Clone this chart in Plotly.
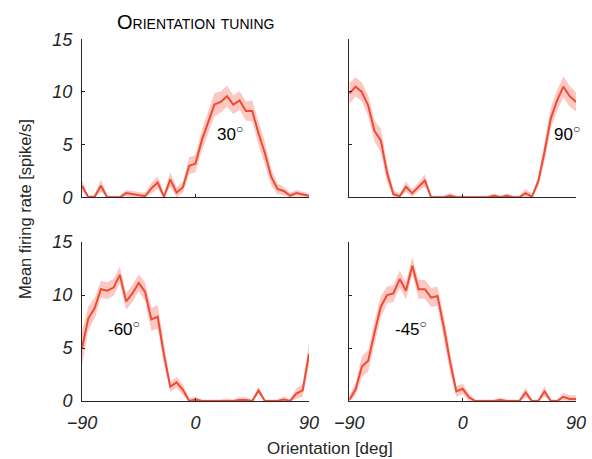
import plotly.graph_objects as go

orientation = [-90, -85, -80, -75, -70, -65, -60, -55, -50, -45, -40, -35, -30, -25, -20, -15, -10, -5,
               0, 5, 10, 15, 20, 25, 30, 35, 40, 45, 50, 55, 60, 65, 70, 75, 80, 85, 90]

rate_30 = [1.1, 0.0, 0.05, 1.1, 0.0, 0.0, 0.0, 0.4, 0.3, 0.2, 0.1, 0.85, 1.4, 0.05, 1.7, 0.45, 0.95, 3.0,
           3.2, 5.4, 7.1, 8.8, 9.05, 9.6, 8.8, 9.2, 8.2, 8.2, 6.05, 4.2, 1.95, 0.8, 0.6, 0.15, 0.4, 0.3, 0.15]
sem_30 = [0.5, 0.15, 0.25, 0.6, 0.15, 0.15, 0.15, 0.3, 0.3, 0.3, 0.3, 0.5, 0.6, 0.3, 0.7, 0.5, 0.5, 0.8,
          0.8, 1.0, 1.1, 1.1, 1.0, 1.0, 0.9, 0.9, 0.9, 1.0, 1.1, 1.1, 0.8, 0.5, 0.4, 0.25, 0.3, 0.25, 0.15]

rate_90 = [9.85, 10.5, 10.0, 8.7, 6.3, 5.4, 2.3, 0.3, 0.1, 1.0, 0.4, 1.0, 1.6, 0.0, 0.0, 0.0, 0.15, 0.0,
           0.0, 0.0, 0.0, 0.0, 0.0, 0.15, 0.0, 0.15, 0.0, 0.0, 0.4, 0.05, 1.5, 4.3, 7.5, 9.2, 10.5, 9.6, 9.05]
sem_90 = [1.0, 0.9, 0.9, 1.0, 1.0, 1.1, 0.9, 0.4, 0.25, 0.5, 0.35, 0.4, 0.6, 0.15, 0.15, 0.15, 0.25, 0.15,
          0.15, 0.15, 0.15, 0.15, 0.15, 0.2, 0.15, 0.2, 0.15, 0.15, 0.4, 0.25, 0.5, 0.9, 1.0, 1.0, 1.0, 1.0, 0.9]

rate_m60 = [5.0, 7.8, 8.75, 10.55, 10.4, 10.7, 11.9, 9.4, 10.15, 11.15, 10.3, 7.7, 7.95, 4.35, 1.35, 1.75, 1.05, 0.0,
            0.15, 0.0, 0.0, 0.0, 0.0, 0.05, 0.0, 0.1, 0.1, 0.0, 1.0, 0.0, 0.0, 0.0, 0.15, 0.0, 0.7, 1.0, 4.45]
sem_m60 = [1.6, 1.1, 1.0, 0.8, 0.8, 0.8, 0.8, 0.8, 0.8, 0.8, 0.9, 1.1, 1.1, 0.9, 0.5, 0.5, 0.5, 0.25,
           0.25, 0.15, 0.15, 0.15, 0.15, 0.2, 0.15, 0.25, 0.25, 0.15, 0.35, 0.15, 0.15, 0.15, 0.25, 0.15, 0.5, 0.6, 1.0]

rate_m45 = [0.1, 1.1, 3.25, 3.8, 6.45, 8.9, 10.0, 10.15, 11.5, 10.4, 12.75, 10.55, 10.55, 9.75, 9.9, 7.0, 3.7, 0.9,
            1.15, 0.35, 0.0, 0.0, 0.0, 0.0, 0.1, 0.0, 0.0, 0.0, 0.8, 0.0, 0.0, 0.9, 0.0, 0.0, 0.4, 0.2, 0.2]
sem_m45 = [0.4, 0.6, 1.0, 1.0, 1.1, 1.0, 0.8, 0.8, 0.8, 0.8, 0.8, 0.9, 0.9, 0.9, 0.9, 1.1, 1.0, 0.5,
           0.5, 0.35, 0.15, 0.15, 0.15, 0.15, 0.2, 0.15, 0.15, 0.15, 0.5, 0.15, 0.15, 0.5, 0.15, 0.15, 0.35, 0.35, 0.35]

panel_labels = ["30", "90", "-60", "-45"]
label_pos = [(27, 6.1), (83, 6.1), (-57, 6.9), (-41, 6.9)]
y_ticks = [0, 5, 10, 15]
x_ticks = [-90, 0, 90]

W, H = 592, 459
LINE = "#EE4B36"
BAND = "rgba(248,140,125,0.48)"
AX = "#262626"
FONT = "Liberation Sans, Arial, sans-serif"

# pixel boxes: (left, right, top, bottom)
boxes = [(82, 309, 39.3, 197.3), (349.3, 576, 39.3, 197.3),
         (82, 309, 242, 401), (349.3, 576, 242, 401)]

series = [(rate_30, sem_30), (rate_90, sem_90), (rate_m60, sem_m60), (rate_m45, sem_m45)]

fig = go.Figure()
for i, ((rate, sem), (l, r, t, b)) in enumerate(zip(series, boxes)):
    n = i + 1
    xa = "x" if n == 1 else f"x{n}"
    ya = "y" if n == 1 else f"y{n}"
    upper = [v + s for v, s in zip(rate, sem)]
    lower = [max(0.0, v - s) for v, s in zip(rate, sem)]
    fig.add_trace(go.Scatter(x=orientation + orientation[::-1], y=upper + lower[::-1],
                             fill="toself", fillcolor=BAND, line=dict(width=0),
                             mode="lines", hoverinfo="skip", showlegend=False,
                             xaxis=xa, yaxis=ya))
    fig.add_trace(go.Scatter(x=orientation, y=rate, mode="lines",
                             line=dict(color=LINE, width=2), showlegend=False,
                             xaxis=xa, yaxis=ya))
    bottom_row = n in (3, 4)
    left_col = n in (1, 3)
    xkey = "xaxis" if n == 1 else f"xaxis{n}"
    ykey = "yaxis" if n == 1 else f"yaxis{n}"
    fig.layout[xkey] = dict(domain=[l / W, r / W], range=[-90, 90], anchor=ya, automargin=False,
                            showline=True, linecolor=AX, linewidth=1, showgrid=False, zeroline=False,
                            ticks="inside", ticklen=3, tickcolor=AX, tickvals=x_ticks,
                            showticklabels=bottom_row, ticklabelstandoff=5,
                            tickfont=dict(family=FONT, size=18, color=AX, style="italic"))
    fig.layout[ykey] = dict(domain=[(H - b) / H, (H - t) / H], range=[0, 15], anchor=xa, automargin=False,
                            showline=True, linecolor=AX, linewidth=1, showgrid=False, zeroline=False,
                            ticks="inside", ticklen=3, tickcolor=AX, tickvals=y_ticks,
                            showticklabels=left_col, ticklabelstandoff=5,
                            tickfont=dict(family=FONT, size=18, color=AX, style="italic"))
    lx, ly = label_pos[i]
    fig.add_annotation(x=lx, y=ly, xref=xa, yref=ya, showarrow=False,
                       text=panel_labels[i] + "<sup>○</sup>",
                       font=dict(family=FONT, size=17, color="black"))

fig.add_annotation(x=195.5 / W, y=(H - 22) / H, xref="paper", yref="paper", showarrow=False,
                   xanchor="center", yanchor="middle",
                   text="Orientation tuning",
                   font=dict(family=FONT, size=20, color="black", variant="small-caps"))
fig.add_annotation(x=330 / W, y=(H - 448) / H, xref="paper", yref="paper", showarrow=False,
                   xanchor="center", yanchor="middle",
                   text="Orientation [deg]", font=dict(family=FONT, size=17, color=AX))
fig.add_annotation(x=25 / W, y=(H - 209) / H, xref="paper", yref="paper", showarrow=False,
                   xanchor="center", yanchor="middle",
                   text="Mean firing rate [spike/s]", textangle=-90,
                   font=dict(family=FONT, size=16.5, color=AX))

fig.update_layout(width=W, height=H, margin=dict(l=0, r=0, t=0, b=0),
                  plot_bgcolor="white", paper_bgcolor="white", showlegend=False)

fig.write_html("out.html")
